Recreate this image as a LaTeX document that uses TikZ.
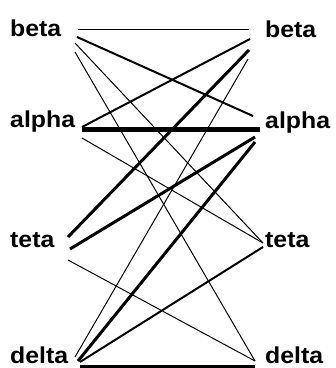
\documentclass[tikz,border=0pt]{standalone}
\usepackage{fontspec}
\setmainfont{Liberation Sans}[FakeStretch=1.08]
\begin{document}
\begin{tikzpicture}[x=1pt,y=-1pt,
  lbl/.style={font=\fontsize{23}{23}\selectfont\bfseries, inner sep=0pt, anchor=base west},
  thinln/.style={line width=1pt},
  midln/.style={line width=2pt},
  thickln/.style={line width=3pt},
  heavyln/.style={line width=5pt}]
\useasboundingbox[fill=white] (0,0) rectangle (336,368);
% labels
\node[lbl] (bL) at (10,36.5) {beta};
\node[lbl] (aL) at (10,127) {alpha};
\node[lbl] (tL) at (10,247) {teta};
\node[lbl] (dL) at (10,363) {delta};
\node[lbl] (bR) at (265,37) {beta};
\node[lbl] (aR) at (265,128) {alpha};
\node[lbl] (tR) at (265,247) {teta};
\node[lbl] (dR) at (265,363) {delta};
% endpoints left
\coordinate (bL1) at (78,29);
\coordinate (bL2) at (77,37);
\coordinate (bL3) at (75,43);
\coordinate (bL4) at (75,52);
\coordinate (aL1) at (82,127);
\coordinate (aL2) at (82,129);
\coordinate (aL3) at (82,138);
\coordinate (tL1) at (68,237);
\coordinate (tL2) at (70,249);
\coordinate (tL3) at (68,260);
\coordinate (dL1) at (75,357);
\coordinate (dL2) at (78,361);
\coordinate (dL3) at (80,362);
\coordinate (dL4) at (80,366);
% endpoints right
\coordinate (bR1) at (249,29);
\coordinate (bR2) at (250,39);
\coordinate (bR3) at (249,50);
\coordinate (bR4) at (248,59);
\coordinate (aR1) at (253,116);
\coordinate (aR2) at (260,129);
\coordinate (aR3) at (255,137);
\coordinate (aR4) at (255,142);
\coordinate (tR1) at (263,243);
\coordinate (tR2) at (263,247);
\coordinate (dR1) at (255,361);
\coordinate (dR2) at (255,366);
% connectors
\draw[thinln] (bL1) -- (bR1);
\draw[midln] (bL2) -- (aR1);
\draw[thinln] (bL3) -- (tR1);
\draw[thinln] (bL4) -- (dR1);
\draw[midln] (aL1) -- (bR2);
\draw[heavyln] (aL2) -- (aR2);
\draw[thinln] (aL3) -- (tR1);
\draw[thickln] (tL1) -- (bR3);
\draw[thickln] (tL2) -- (aR3);
\draw[thinln] (tL3) -- (dR1);
\draw[thinln] (dL1) -- (bR4);
\draw[thickln] (dL2) -- (aR4);
\draw[midln] (dL3) -- (tR2);
\draw[thickln] (dL4) -- (dR2);
\end{tikzpicture}
\end{document}
